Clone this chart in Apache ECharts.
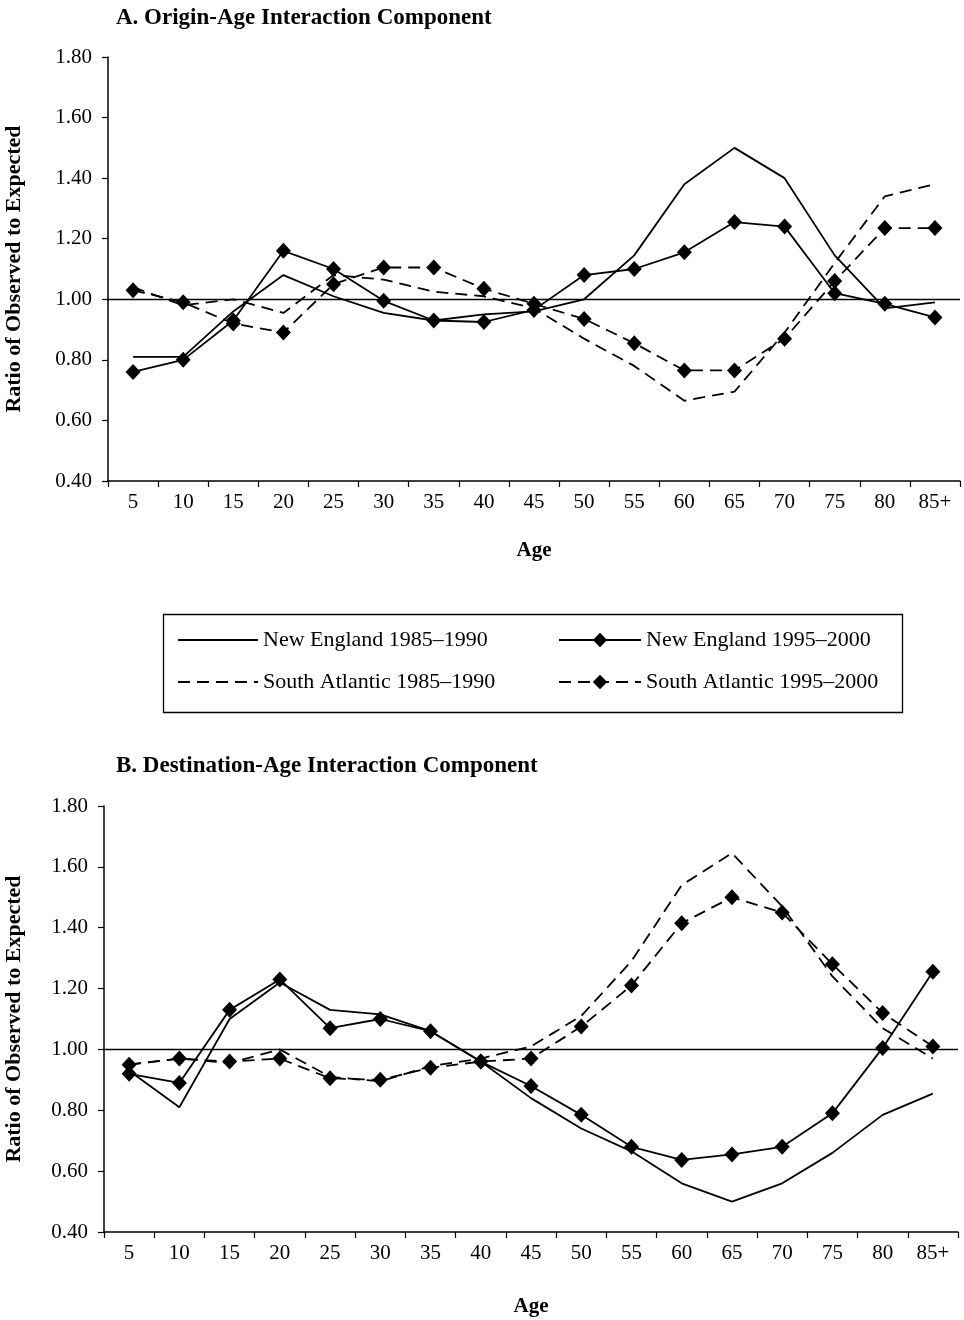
<!DOCTYPE html>
<html>
<head>
<meta charset="utf-8">
<script src="https://cdn.jsdelivr.net/npm/echarts@6/dist/echarts.min.js"></script>
<style>html,body{margin:0;padding:0;background:#fff}#c{width:964px;height:1320px}</style>
</head>
<body>
<div id="c"></div>
<script>
var ageLabels = ['5','10','15','20','25','30','35','40','45','50','55','60','65','70','75','80','85+'];
var yTicks = [0.40,0.60,0.80,1.00,1.20,1.40,1.60,1.80];

// Panel A: Origin-Age Interaction Component
var neA85 = [0.81,0.81,0.96,1.08,1.01,0.955,0.93,0.95,0.96,1.00,1.145,1.38,1.50,1.40,1.145,0.97,0.99];
var neA95 = [0.76,0.80,0.93,1.16,1.10,0.995,0.93,0.925,0.965,1.08,1.10,1.155,1.255,1.24,1.02,0.985,0.94];
var saA85 = [1.04,0.98,1.00,0.955,1.08,1.065,1.025,1.01,0.97,0.87,0.78,0.665,0.695,0.89,1.12,1.34,1.38];
var saA95 = [1.03,0.99,0.92,0.89,1.05,1.105,1.105,1.035,0.985,0.935,0.855,0.765,0.765,0.87,1.06,1.235,1.235];

// Panel B: Destination-Age Interaction Component
var neB85 = [0.93,0.81,1.10,1.22,1.13,1.115,1.06,0.96,0.84,0.74,0.665,0.56,0.50,0.56,0.66,0.785,0.855];
var neB95 = [0.92,0.89,1.13,1.23,1.07,1.10,1.06,0.96,0.88,0.785,0.68,0.637,0.655,0.68,0.79,1.005,1.255];
var saB85 = [0.95,0.97,0.955,1.00,0.91,0.895,0.945,0.97,1.01,1.11,1.29,1.54,1.645,1.47,1.24,1.07,0.97];
var saB95 = [0.95,0.97,0.96,0.97,0.905,0.90,0.94,0.96,0.97,1.075,1.21,1.415,1.50,1.45,1.28,1.12,1.01];

var names = ['New England 1985\u20131990','New England 1995\u20132000','South Atlantic 1985\u20131990','South Atlantic 1995\u20132000'];
var titles = ['A. Origin-Age Interaction Component','B. Destination-Age Interaction Component'];
var yName = 'Ratio of Observed to Expected';
var xName = 'Age';

var FONT = 'Liberation Serif';
var DASH = [12, 7];

function mkSeries(name, data, idx, dashed, marker, refLine) {
  var s = {
    name: name, type: 'line', data: data,
    xAxisIndex: idx, yAxisIndex: idx,
    symbol: marker ? 'diamond' : 'none',
    symbolSize: marker ? [15, 16] : 0,
    showSymbol: !!marker,
    itemStyle: { color: '#000' },
    lineStyle: { color: '#000', width: 1.8, type: dashed ? DASH : 'solid' },
    animation: false,
    silent: true
  };
  if (refLine) {
    s.markLine = {
      silent: true, symbol: 'none', animation: false,
      label: { show: false },
      lineStyle: { color: '#000', width: 1.4, type: 'solid' },
      data: [{ yAxis: 1.0 }]
    };
  }
  return s;
}

function xAx(idx, gap) {
  return {
    type: 'category', gridIndex: idx, data: ageLabels, boundaryGap: true,
    name: xName, nameLocation: 'middle', nameGap: gap,
    nameTextStyle: { fontFamily: FONT, fontWeight: 'bold', fontSize: 21, color: '#000' },
    axisLine: { lineStyle: { color: '#000', width: 1.5 } },
    axisTick: { show: true, length: 6, lineStyle: { color: '#000', width: 1.2 } },
    axisLabel: { fontFamily: FONT, fontSize: 21, color: '#000', margin: 11, interval: 0 },
    splitLine: { show: false }
  };
}
function yAx(idx, gap) {
  return {
    type: 'value', gridIndex: idx, min: 0.4, max: 1.8, interval: 0.2,
    name: yName, nameLocation: 'middle', nameGap: gap,
    nameTextStyle: { fontFamily: FONT, fontWeight: 'bold', fontSize: 22, color: '#000' },
    axisLine: { show: true, lineStyle: { color: '#000', width: 1.5 } },
    axisTick: { show: true, length: 6, lineStyle: { color: '#000', width: 1.2 } },
    axisLabel: { fontFamily: FONT, fontSize: 21, color: '#000', margin: 16,
      formatter: function (v) { return v.toFixed(2); } },
    splitLine: { show: false }
  };
}

function legendItem(name, marker, left, top, w) {
  var item = { name: name };
  if (!marker) { item.itemStyle = { opacity: 0 }; }
  return {
    data: [item], left: left, top: top, orient: 'horizontal',
    itemWidth: w, itemHeight: 18, selectedMode: false,
    textStyle: { fontFamily: FONT, fontSize: 22, color: '#000' }
  };
}

var option = {
  backgroundColor: '#fff',
  animation: false,
  title: [
    { text: titles[0], left: 111, top: 2, textStyle: { fontFamily: FONT, fontWeight: 'bold', fontSize: 23, color: '#000' } },
    { text: titles[1], left: 111, top: 750, textStyle: { fontFamily: FONT, fontWeight: 'bold', fontSize: 23, color: '#000' } }
  ],
  grid: [
    { left: 108, top: 57, width: 852, height: 424, containLabel: false, outerBoundsMode: 'none' },
    { left: 104, top: 806, width: 854, height: 426, containLabel: false, outerBoundsMode: 'none' }
  ],
  xAxis: [xAx(0, 59), xAx(1, 64)],
  yAxis: [yAx(0, 83), yAx(1, 79)],
  legend: [
    legendItem(names[0], false, 172, 624, 80),
    legendItem(names[1], true, 553, 624, 82),
    legendItem(names[2], false, 172, 666, 80),
    legendItem(names[3], true, 553, 666, 82)
  ],
  graphic: [
    { type: 'rect', shape: { x: 163.5, y: 614.5, width: 739, height: 98 },
      style: { fill: 'none', stroke: '#000', lineWidth: 1.3 }, silent: true }
  ],
  series: [
    mkSeries(names[0], neA85, 0, false, false, true),
    mkSeries(names[1], neA95, 0, false, true, false),
    mkSeries(names[2], saA85, 0, true, false, false),
    mkSeries(names[3], saA95, 0, true, true, false),
    mkSeries(names[0], neB85, 1, false, false, true),
    mkSeries(names[1], neB95, 1, false, true, false),
    mkSeries(names[2], saB85, 1, true, false, false),
    mkSeries(names[3], saB95, 1, true, true, false)
  ]
};

var chart = echarts.init(document.getElementById('c'), null, { renderer: 'canvas' });
chart.setOption(option);
</script>
</body>
</html>
